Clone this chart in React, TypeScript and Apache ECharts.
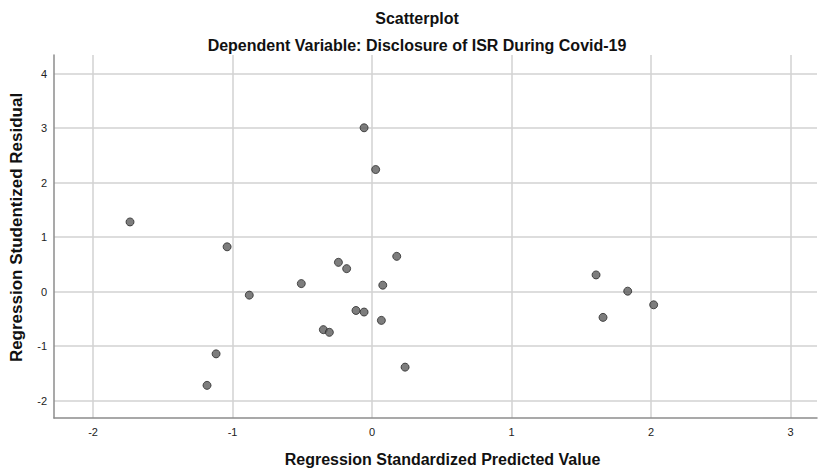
import React, { useEffect, useRef } from "react";
import * as echarts from "echarts";

const titleText = "Scatterplot";
const subtitleText = "Dependent Variable: Disclosure of ISR During Covid-19";
const xAxisTitle = "Regression Standardized Predicted Value";
const yAxisTitle = "Regression Studentized Residual";

const predicted = [
  -1.735, -1.039, -0.88, -0.507, -0.241, -0.182, -0.057, 0.026, 0.177, 0.077, -0.115,
  -0.057, 0.067, -0.349, -0.306, 0.237, -1.118, -1.183, 1.606, 1.833, 2.019, 1.656,
];
const residual = [
  1.277, 0.821, -0.066, 0.146, 0.536, 0.42, 3.005, 2.239, 0.646, 0.117, -0.347,
  -0.376, -0.529, -0.699, -0.748, -1.387, -1.143, -1.721, 0.305, 0.007, -0.243, -0.474,
];

const xMin = -2.28;
const xMax = 3.19;
const yMin = -2.32;
const yMax = 4.34;

export default function App() {
  const ref = useRef<HTMLDivElement>(null);
  useEffect(() => {
    if (!ref.current) return;
    const chart = echarts.init(ref.current, null, { renderer: "svg" });
    const font = "Arial, 'Liberation Sans', sans-serif";
    chart.setOption({
      animation: false,
      backgroundColor: "#ffffff",
      title: [
        {
          text: titleText,
          left: 412,
          top: 5,
          textAlign: "center",
          textStyle: { fontFamily: font, fontSize: 16, fontWeight: "bold", color: "#111" },
        },
        {
          text: subtitleText,
          left: 412,
          top: 32,
          textAlign: "center",
          textStyle: { fontFamily: font, fontSize: 16, fontWeight: "bold", color: "#111" },
        },
      ],
      grid: { left: 54, right: 1, top: 55, bottom: 52, containLabel: false },
      xAxis: {
        type: "value",
        min: xMin,
        max: xMax,
        splitNumber: 5,
        name: xAxisTitle,
        nameLocation: "middle",
        nameGap: 33,
        nameTextStyle: {
          fontFamily: font,
          fontSize: 16,
          fontWeight: "bold",
          color: "#111",
          padding: [0, 0, 0, 14],
        },
        axisLine: { show: true, onZero: false, lineStyle: { color: "#8c8c8c", width: 1.5 } },
        axisTick: { show: false },
        axisLabel: {
          fontFamily: font,
          fontSize: 11,
          color: "#222",
          margin: 8,
          showMinLabel: false,
          showMaxLabel: false,
        },
        splitLine: {
          show: true,
          showMinLine: false,
          showMaxLine: false,
          lineStyle: { color: "#d2d2d2", width: 1.5 },
        },
      },
      yAxis: {
        type: "value",
        min: yMin,
        max: yMax,
        splitNumber: 6,
        name: yAxisTitle,
        nameLocation: "middle",
        nameGap: 29,
        nameTextStyle: {
          fontFamily: font,
          fontSize: 17,
          fontWeight: "bold",
          color: "#111",
          padding: [0, 0, 0, 18],
        },
        axisLine: { show: true, onZero: false, lineStyle: { color: "#8c8c8c", width: 1.5 } },
        axisTick: { show: false },
        axisLabel: {
          fontFamily: font,
          fontSize: 11,
          color: "#222",
          margin: 7,
          showMinLabel: false,
          showMaxLabel: false,
        },
        splitLine: {
          show: true,
          showMinLine: false,
          showMaxLine: false,
          lineStyle: { color: "#d2d2d2", width: 1.5 },
        },
      },
      series: [
        {
          type: "scatter",
          data: predicted.map((x, i) => [x, residual[i]]),
          symbol: "circle",
          symbolSize: 8,
          itemStyle: { color: "#5c5c5c", borderColor: "#2a2a2a", borderWidth: 1 },
        },
      ],
    });
    return () => chart.dispose();
  }, []);
  return (
    <div
      ref={ref}
      style={{ position: "absolute", left: 0, top: 0, width: 818, height: 472 }}
    />
  );
}
